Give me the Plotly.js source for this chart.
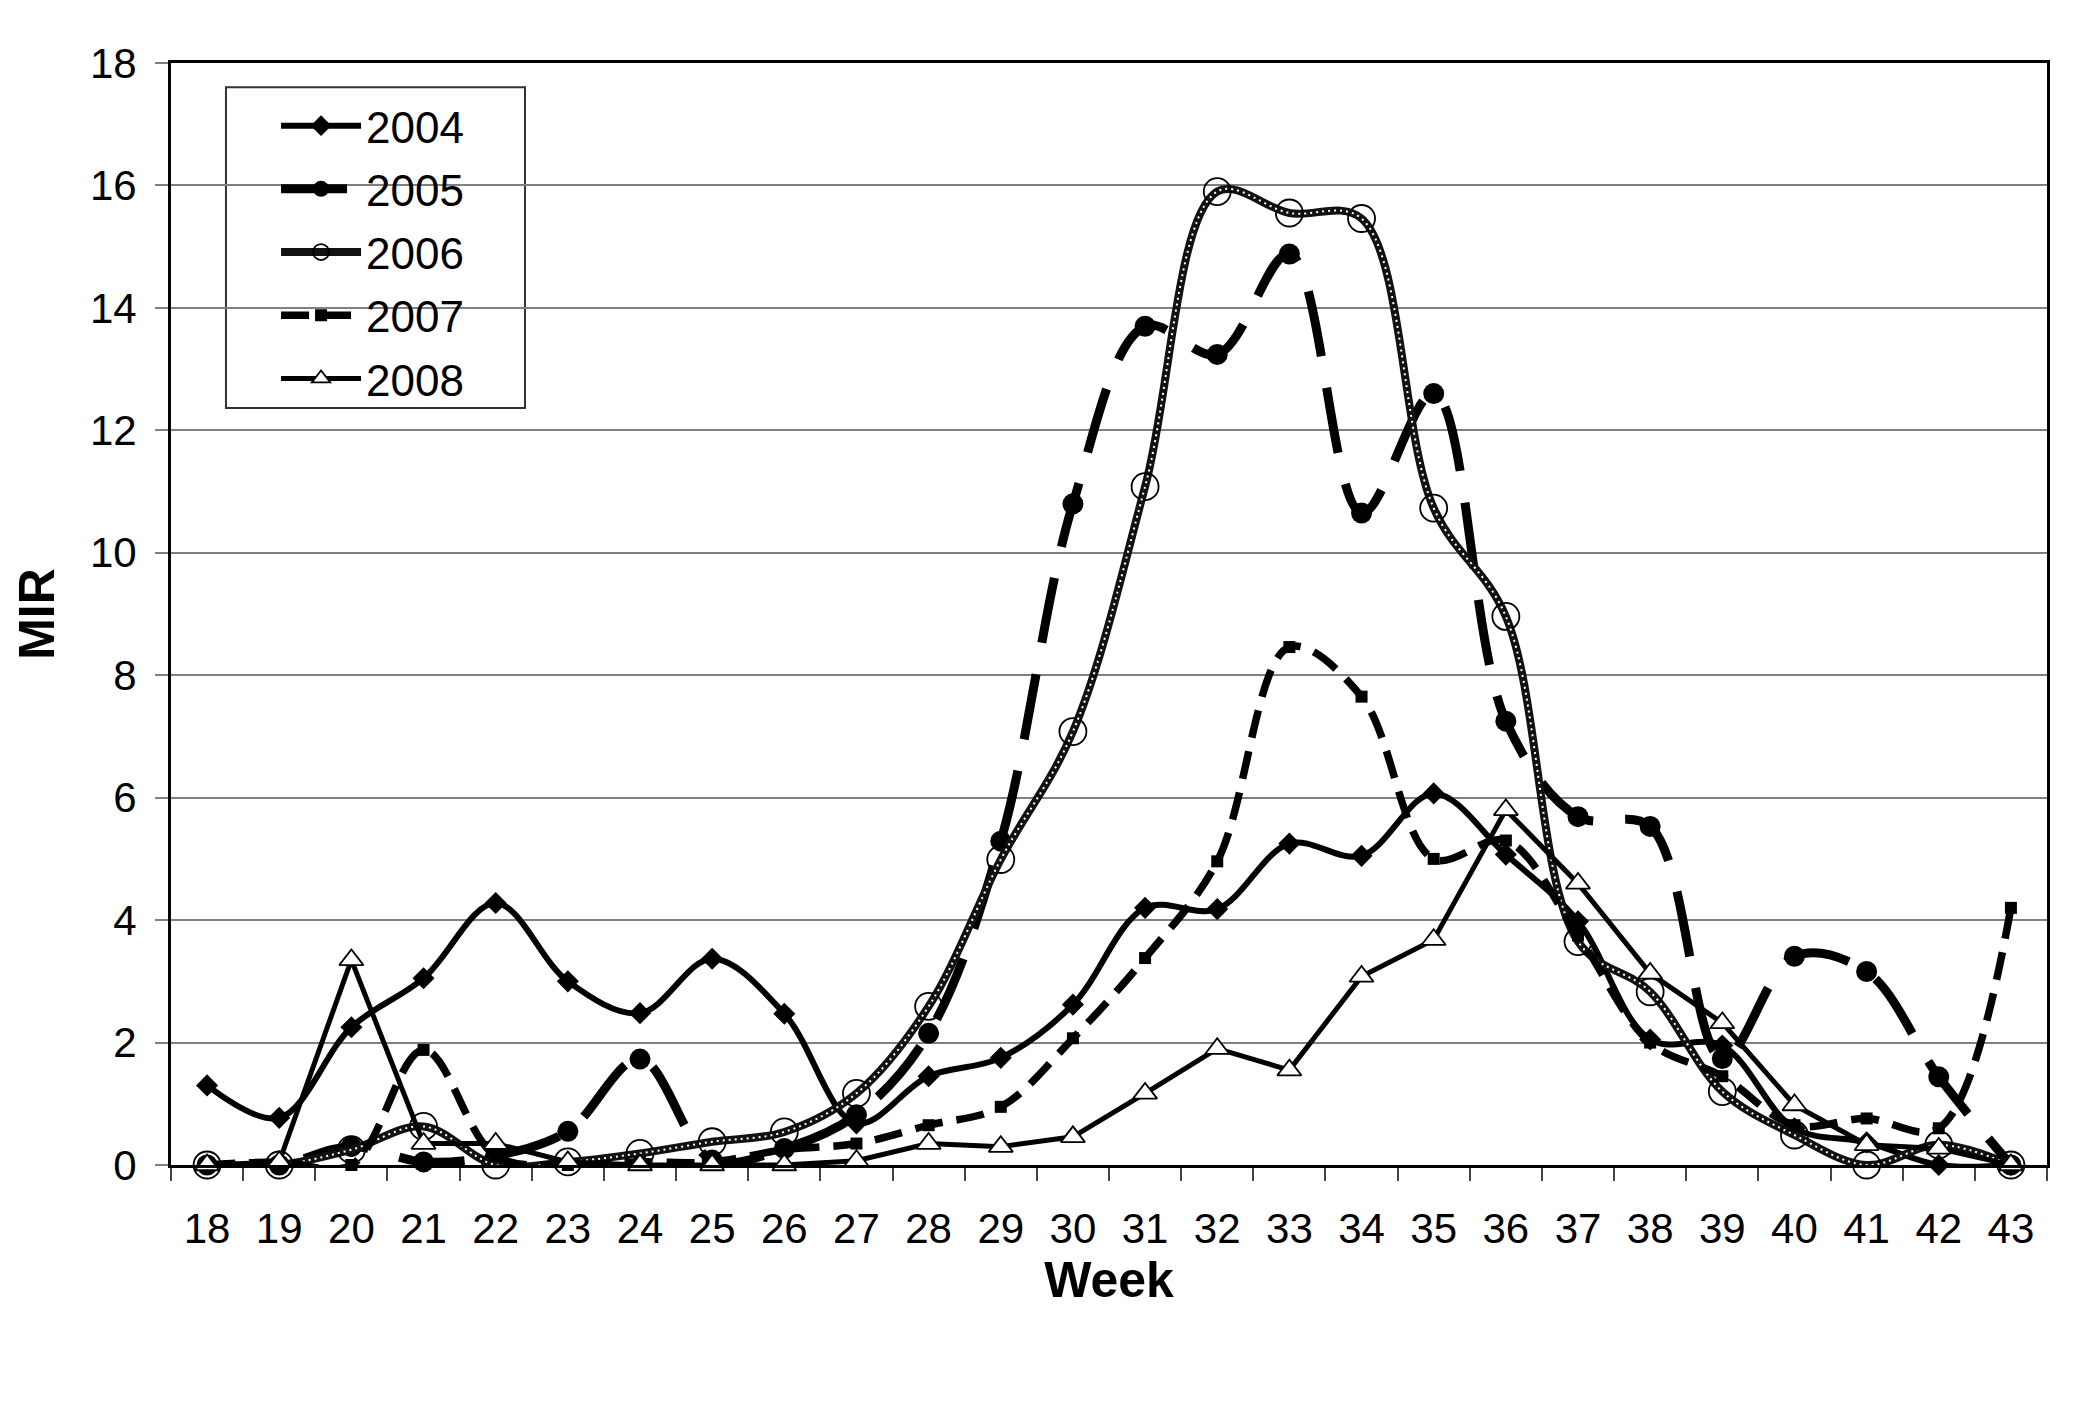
<!DOCTYPE html>
<html>
<head>
<meta charset="utf-8">
<script src="https://cdn.plot.ly/plotly-3.0.1.min.js"></script>
<style>
  html, body { margin: 0; padding: 0; background: #fff; }
  #chart { width: 2075px; height: 1410px; }
</style>
</head>
<body>
<div id="chart"></div>
<script>
var weeks = ['18','19','20','21','22','23','24','25','26','27','28','29','30',
             '31','32','33','34','35','36','37','38','39','40','41','42','43'];

var mir2004 = [1.3, 0.77, 2.25, 3.05, 4.28, 3.0, 2.48, 3.37, 2.47, 0.68, 1.45, 1.75, 2.62,
               4.2, 4.18, 5.25, 5.05, 6.07, 5.07, 3.98, 2.05, 1.95, 0.6, 0.37, 0, 0];
var mir2005 = [0, 0, 0.3, 0.05, 0.15, 0.55, 1.73, 0.08, 0.27, 0.82, 2.15, 5.29, 10.8,
               13.7, 13.24, 14.88, 10.65, 12.6, 7.25, 5.69, 5.53, 1.74, 3.41, 3.16, 1.44, 0];
var mir2006 = [0, 0, 0.25, 0.63, 0, 0.05, 0.19, 0.38, 0.54, 1.17, 2.59, 4.99, 7.08,
               11.08, 15.9, 15.55, 15.46, 10.73, 8.96, 3.65, 2.83, 1.2, 0.49, 0, 0.33, 0];
var mir2007 = [0, 0.05, 0, 1.88, 0.15, 0, 0.05, 0.05, 0.25, 0.35, 0.65, 0.95, 2.07,
               3.38, 4.96, 8.46, 7.65, 5.0, 5.3, 3.75, 2.0, 1.45, 0.65, 0.76, 0.6, 4.2];
var mir2008 = [0, 0.05, 3.35, 0.35, 0.35, 0.05, 0, 0, 0, 0.07, 0.35, 0.3, 0.46,
               1.17, 1.9, 1.55, 3.08, 3.68, 5.8, 4.6, 3.13, 2.32, 0.98, 0.33, 0.27, 0];

var font = 'Liberation Sans, Arial, sans-serif';

var data = [{
  x: weeks, y: mir2004, name: '2004', type: 'scatter', mode: 'lines+markers',
  legendgroup: 'a', cliponaxis: false,
  line: {color: '#000', width: 6, shape: 'spline', smoothing: 1},
  marker: {symbol: 'diamond', size: 17, color: '#000'}
}, {
  x: weeks, y: mir2005, name: '2005', type: 'scatter', mode: 'lines+markers',
  legendgroup: 'b', cliponaxis: false,
  line: {color: '#000', width: 9, shape: 'spline', smoothing: 1, dash: '66px,32px'},
  marker: {symbol: 'circle', size: 21, color: '#000'}
}, {
  x: weeks, y: mir2006, name: '2006', type: 'scatter', mode: 'lines+markers',
  legendgroup: 'c', cliponaxis: false,
  line: {color: '#111', width: 8, shape: 'spline', smoothing: 1},
  marker: {symbol: 'circle-open', size: 27, color: '#000', line: {width: 1.8, color: '#000'}}
}, {
  // light dotted texture inside the 2006 line
  x: weeks, y: mir2006, name: '2006', type: 'scatter', mode: 'lines',
  legendgroup: 'c', showlegend: false, hoverinfo: 'skip', cliponaxis: false,
  line: {color: '#fff', width: 2, shape: 'spline', smoothing: 1, dash: '2px,4px'}
}, {
  x: weeks, y: mir2007, name: '2007', type: 'scatter', mode: 'lines+markers',
  legendgroup: 'd', cliponaxis: false,
  line: {color: '#000', width: 7.5, shape: 'spline', smoothing: 1, dash: '28px,14px'},
  marker: {symbol: 'square', size: 12, color: '#000'}
}, {
  x: weeks, y: mir2008, name: '2008', type: 'scatter', mode: 'lines+markers',
  legendgroup: 'e', cliponaxis: false,
  line: {color: '#000', width: 5},
  marker: {symbol: 'triangle-up', size: 21, color: '#fff', line: {width: 1.8, color: '#000'}}
}];

var layout = {
  width: 2075,
  height: 1410,
  margin: {l: 171, r: 28, t: 63, b: 245},
  paper_bgcolor: '#fff',
  plot_bgcolor: '#fff',
  font: {family: font, size: 42, color: '#000'},
  showlegend: true,
  legend: {
    x: 0.056, y: 0.975, xanchor: 'left', yanchor: 'top',
    bgcolor: 'rgba(0,0,0,0)', borderwidth: 0,
    font: {family: font, size: 44, color: '#000'},
    itemwidth: 80, traceorder: 'grouped', tracegroupgap: 3
  },
  shapes: [{
    type: 'rect', xref: 'paper', yref: 'paper', layer: 'between',
    x0: 0.0293, x1: 0.1887, y0: 0.687, y1: 0.978,
    fillcolor: '#fff', line: {color: '#333', width: 2}
  }],
  xaxis: {
    type: 'category',
    range: [-0.5, 25.5],
    tickson: 'boundaries',
    ticks: 'outside', ticklen: 13, tickwidth: 2, tickcolor: '#444',
    ticklabelstandoff: 25,
    showgrid: false,
    showline: true, linecolor: '#000', linewidth: 3, mirror: true,
    tickfont: {family: font, size: 42},
    title: {text: '<b>Week</b>', font: {family: font, size: 50}, standoff: 8}
  },
  yaxis: {
    range: [0, 18], dtick: 2,
    ticks: 'outside', ticklen: 13, tickwidth: 2, tickcolor: '#808080',
    ticklabelstandoff: 10,
    showgrid: true, gridcolor: '#808080', gridwidth: 2,
    zeroline: false,
    showline: true, linecolor: '#000', linewidth: 3, mirror: true,
    tickfont: {family: font, size: 42},
    title: {text: '<b>MIR</b>', font: {family: font, size: 50}, standoff: 20}
  }
};

Plotly.newPlot('chart', data, layout, {displayModeBar: false});
</script>
</body>
</html>
